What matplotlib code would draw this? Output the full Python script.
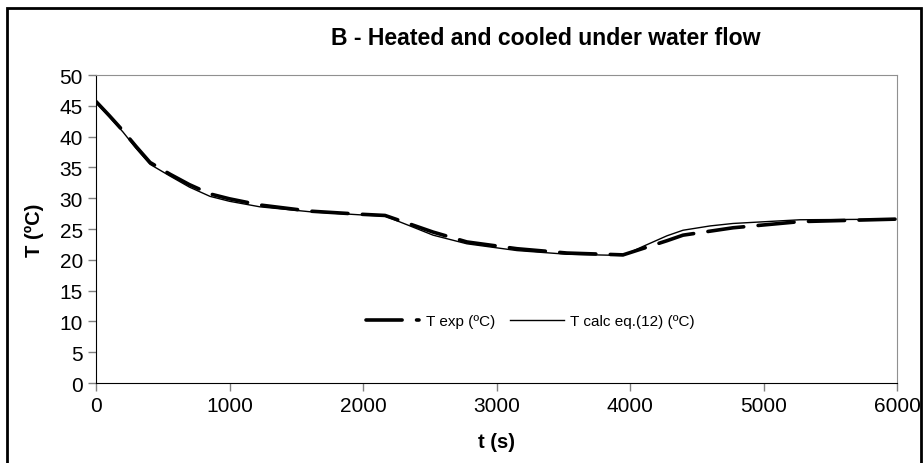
import matplotlib
matplotlib.use("Agg")
import matplotlib.pyplot as plt
from matplotlib.patches import Rectangle

plt.rcParams['font.family'] = ['Liberation Sans', 'DejaVu Sans']

# experimental temperature (dashed)
t_exp = [0, 100, 200, 300, 405, 554, 700, 854, 1000, 1228, 1603, 1978, 2165, 2352, 2525, 2778,
         3153, 3528, 3948, 4277, 4397, 4772, 5273, 5985]
T_exp = [45.7, 43.4, 41.0, 38.4, 35.8, 33.9, 32.2, 30.7, 29.9, 28.9, 27.9, 27.4, 27.2, 25.8, 24.5,
         22.9, 21.8, 21.1, 20.8, 23.1, 24.0, 25.2, 26.2, 26.6]

# calculated temperature eq.(12) (thin)
t_calc = [0, 100, 200, 300, 405, 554, 700, 854, 1000, 1228, 1603, 1978, 2165, 2352, 2525, 2778,
          3153, 3528, 3948, 4100, 4277, 4397, 4600, 4772, 5273, 5985]
T_calc = [45.5, 43.2, 40.8, 38.1, 35.5, 33.6, 31.8, 30.3, 29.5, 28.6, 27.8, 27.3, 27.1, 25.5, 24.0,
          22.6, 21.5, 20.9, 20.7, 22.2, 23.9, 24.8, 25.5, 25.9, 26.5, 26.6]

fig = plt.figure(figsize=(9.24, 4.64), dpi=100)
ax = fig.add_axes([0.1039, 0.1724, 0.8669, 0.6638])

ax.plot(t_exp, T_exp, color='black', lw=2.6, dashes=(10, 4), dash_capstyle='round',
        label='T exp (ºC)')
ax.plot(t_calc, T_calc, color='black', lw=1.0, label='T calc eq.(12) (ºC)')

ax.set_xlim(0, 6000)
ax.set_ylim(0, 50)
ax.set_xticks(range(0, 6001, 1000))
ax.set_yticks(range(0, 51, 5))
ax.tick_params(labelsize=15, length=6, color='#808080', width=1)
ax.spines['top'].set_color('#909090')
ax.spines['right'].set_color('#909090')
for s in ['left', 'bottom']:
    ax.spines[s].set_color('black')

ax.set_xlabel('t (s)', fontsize=14.5, fontweight='bold')
ax.set_ylabel('T (ºC)', fontsize=14.5, fontweight='bold')
ax.xaxis.set_label_coords(0.5, -0.158)
ax.yaxis.set_label_coords(-0.065, 0.5)
fig.text(0.591, 0.917, 'B - Heated and cooled under water flow', fontsize=16.6,
         fontweight='bold', ha='center', va='center')

ax.legend(loc='center', bbox_to_anchor=(0.542, 0.2), ncol=2, frameon=False, fontsize=11,
          handlelength=3.5, columnspacing=1.0, handletextpad=0.4)

fig.patches.append(Rectangle((0.008, -0.01), 0.989, 0.99, transform=fig.transFigure,
                             fill=False, edgecolor='black', lw=2))

fig.savefig('out.png', dpi=100)
